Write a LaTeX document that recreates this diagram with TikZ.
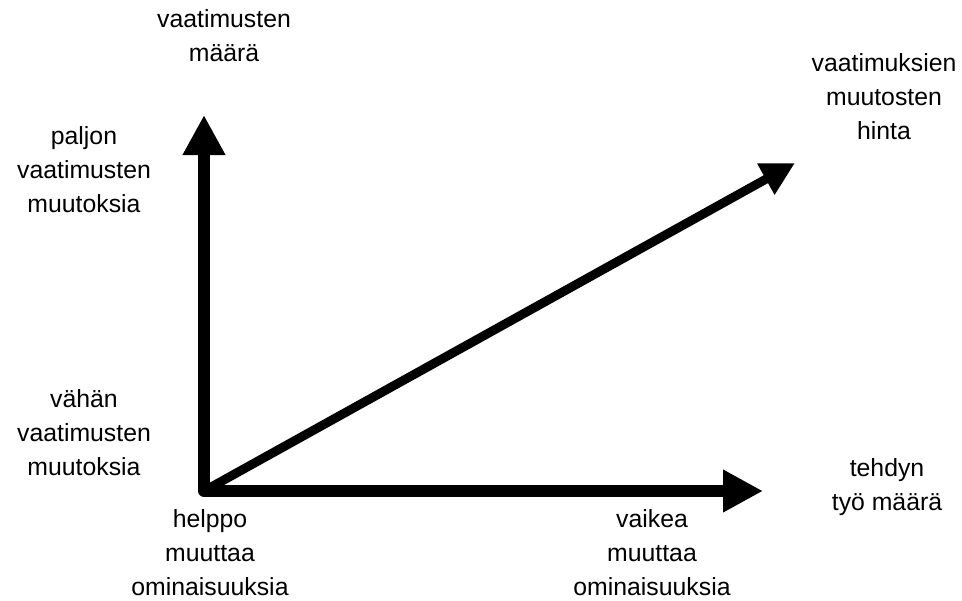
\documentclass[tikz,border=0pt]{standalone}
\usepackage{fontspec}
\setmainfont{Liberation Sans}
\usetikzlibrary{arrows.meta}

\begin{document}
\begin{tikzpicture}[x=0.75pt,y=-0.75pt]
  \tikzset{lbl/.style = {align=center,inner sep=0pt,font=\fontsize{18.6}{25.5}\selectfont}}
  \tikzset{axis/.style = {{Triangle[length=30pt,width=30pt]}-{Triangle[length=30pt,width=30pt]},line width=9pt,line join=round}}
  \tikzset{cost/.style = {-{Triangle[length=25pt,width=25pt]},line width=6.75pt}}
  \useasboundingbox (0,0) rectangle (962,600);
  % points
  \coordinate (o) at (204,491);
  \coordinate (y) at (204,115);
  \coordinate (x) at (763,491);
  \coordinate (d) at (795,163);
  % labels
  \node[lbl] (ylab)  at (224,36)  {vaatimusten\\määrä};
  \node[lbl] (many)  at (84,170)  {paljon\\vaatimusten\\muutoksia};
  \node[lbl] (few)   at (84,433)  {vähän\\vaatimusten\\muutoksia};
  \node[lbl] (easy)  at (210,553) {helppo\\muuttaa\\ominaisuuksia};
  \node[lbl] (hard)  at (652,553) {vaikea\\muuttaa\\ominaisuuksia};
  \node[lbl] (xlab)  at (887,487) {tehdyn\\työ määrä};
  \node[lbl] (dlab)  at (884,97)  {vaatimuksien\\muutosten\\hinta};
  % arrows
  \draw[axis] (y) -- (o) -- (x);
  \draw[cost] (o) -- (d);
\end{tikzpicture}
\end{document}
